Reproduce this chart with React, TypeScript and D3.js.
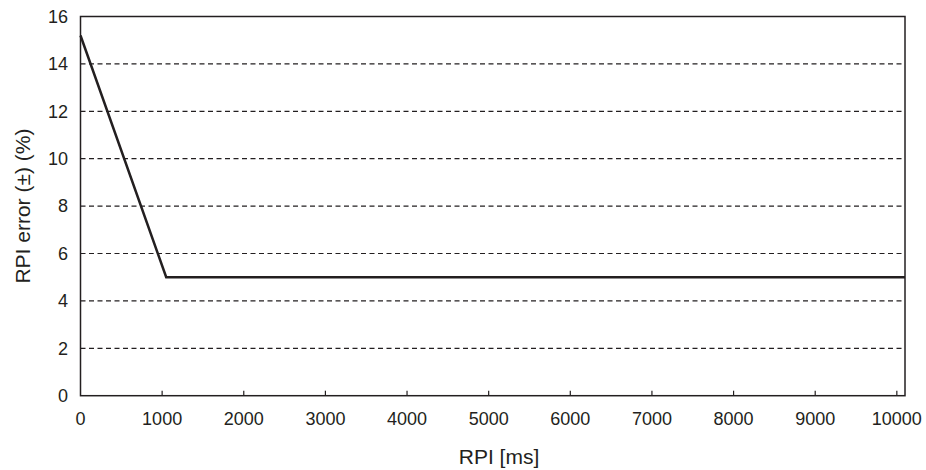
import React from "react";
import * as d3 from "d3";

const xValues = [0, 1050, 10100];
const yValues = [15.2, 5, 5];
const xTicks = [0, 1000, 2000, 3000, 4000, 5000, 6000, 7000, 8000, 9000, 10000];
const yTicks = [0, 2, 4, 6, 8, 10, 12, 14, 16];
const gridTicks = [2, 4, 6, 8, 10, 12, 14];

export default function App() {
  const W = 926, H = 470;
  const left = 80.5, right = 905, top = 16.5, bottom = 395.7;
  const x = d3.scaleLinear().domain([0, 10100]).range([left, right]);
  const y = d3.scaleLinear().domain([0, 16]).range([bottom, top]);
  const line = d3.line<number>().x((_, i) => x(xValues[i])).y((d) => y(d));
  const font = "'Liberation Sans', Arial, Helvetica, sans-serif";
  const c = "#231f20";
  return (
    <svg width={W} height={H} style={{ position: "absolute", left: 0, top: 0 }} fontFamily={font}>
      <rect width={W} height={H} fill="#fff" />
      {gridTicks.map((t) => (
        <line key={t} x1={left} x2={right} y1={y(t)} y2={y(t)} stroke={c} strokeWidth={1.2} strokeDasharray="5,3.5" />
      ))}
      {xTicks.slice(1).map((t) => (
        <line key={t} x1={x(t)} x2={x(t)} y1={bottom} y2={bottom - 5} stroke={c} strokeWidth={1.2} />
      ))}
      <rect x={left} y={top} width={right - left} height={bottom - top} fill="none" stroke={c} strokeWidth={1.5} />
      <path d={line(yValues) || ""} fill="none" stroke={c} strokeWidth={2.5} strokeLinejoin="miter" />
      {yTicks.map((t) => (
        <text key={t} x={68} y={y(t)} dy="0.35em" textAnchor="end" fontSize={18} fill={c}>{t}</text>
      ))}
      {xTicks.map((t) => (
        <text key={t} x={x(t)} y={425} textAnchor="middle" fontSize={18} fill={c}>{t}</text>
      ))}
      <text x={499} y={464} textAnchor="middle" fontSize={21} fill={c}>RPI [ms]</text>
      <text transform={`translate(30,${(top + bottom) / 2}) rotate(-90)`} textAnchor="middle" fontSize={21} fill={c}>RPI error (±) (%)</text>
    </svg>
  );
}
